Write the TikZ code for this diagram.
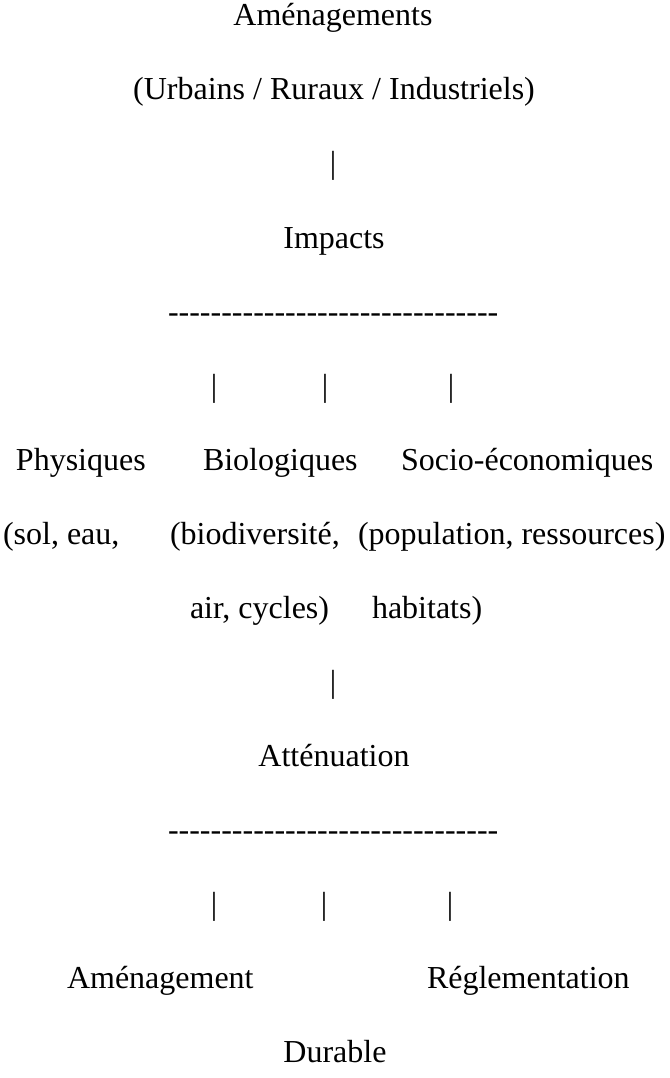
\documentclass[tikz,border=0pt]{standalone}
\usepackage{fontspec}
\setmainfont{Liberation Serif}
\newcommand{\onehy}{-\kern0pt}
\newcommand{\hyrow}{\foreach \k in {1,...,31}{\onehy}}
\begin{document}
\begin{tikzpicture}[x=1pt,y=-1pt,
  txt/.style={inner sep=0pt,outer sep=0pt,font=\fontsize{32}{38}\selectfont,text=black},
  ctr/.style={txt,anchor=base},
  lft/.style={txt,anchor=base west}]
\useasboundingbox[fill=white] (0,0) rectangle (669,1078);
% line 0..14, baseline = 26 + 74 i
\node[ctr] (amen) at (333,26) {Aménagements};
\node[ctr] (types) at (334,100) {(Urbains / Ruraux / Industriels)};
\node[ctr] (bar1) at (333,174) {|};
\node[ctr] (impacts) at (334,248) {Impacts};
\node[lft] (dash1) at (168,322) {\hyrow};
\node[ctr] (b1a) at (214,396) {|};
\node[ctr] (b1b) at (325,396) {|};
\node[ctr] (b1c) at (451,396) {|};
\node[lft] (phys) at (16,470) {Physiques};
\node[lft] (bio) at (203,470) {Biologiques};
\node[lft] (socio) at (401,470) {Socio-économiques};
\node[lft] (physd1) at (3,544) {(sol, eau,};
\node[lft] (biod1) at (170,544) {(biodiversité,};
\node[lft] (sociod) at (358,544) {(population, ressources)};
\node[lft] (physd2) at (190,618) {air, cycles)};
\node[lft] (biod2) at (372,618) {habitats)};
\node[ctr] (bar2) at (333,692) {|};
\node[ctr] (attn) at (334,766) {Atténuation};
\node[lft] (dash2) at (168,840) {\hyrow};
\node[ctr] (b2a) at (214,914) {|};
\node[ctr] (b2b) at (324,914) {|};
\node[ctr] (b2c) at (450,914) {|};
\node[lft] (amd) at (67,988) {Aménagement};
\node[lft] (regl) at (427,988) {Réglementation};
\node[ctr] (durable) at (335,1062) {Durable};
\end{tikzpicture}
\end{document}
